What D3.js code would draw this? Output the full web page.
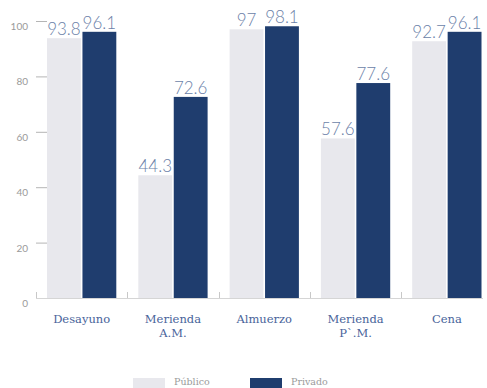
<!DOCTYPE html>
<html>
<head>
<meta charset="utf-8">
<script src="https://cdn.jsdelivr.net/npm/d3@7"></script>
<style>
  body { margin: 0; background: #fff; }
  svg { display: block; }
</style>
</head>
<body>
<div id="chart"></div>
<script>
// chart values
var categories = [["Desayuno"], ["Merienda", "A.M."], ["Almuerzo"], ["Merienda", "P`.M."], ["Cena"]];
var publico = [93.8, 44.3, 97, 57.6, 92.7];
var privado = [96.1, 72.6, 98.1, 77.6, 96.1];
var seriesNames = ["Público", "Privado"];
var yTicks = [0, 20, 40, 60, 80, 100];

var w = 487, h = 388;
var colors = ["#e8e8ed", "#1f3d6e"];

var svg = d3.select("#chart").append("svg")
    .attr("width", w)
    .attr("height", h);

var x = d3.scaleBand()
    .domain(d3.range(categories.length))
    .range([36, 492.5]);

var xInner = d3.scaleBand()
    .domain([0, 1])
    .range([11, x.bandwidth() - 11])
    .paddingInner(0.045);

var y = d3.scaleLinear()
    .domain([0, 100])
    .range([298, 21]);

// y ticks (short lines, labels slightly below)
var yAxis = svg.append("g");
yAxis.selectAll("line")
    .data(yTicks.slice(1))
    .enter().append("line")
    .attr("x1", 36).attr("x2", 47)
    .attr("y1", function(d) { return y(d) + 0.5; })
    .attr("y2", function(d) { return y(d) + 0.5; })
    .attr("stroke", "#b5b5b5")
    .attr("stroke-width", 1);

yAxis.selectAll("text")
    .data(yTicks)
    .enter().append("text")
    .attr("x", 28)
    .attr("y", function(d) { return y(d) + 9; })
    .attr("text-anchor", "end")
    .style("font-family", "Lato, sans-serif")
    .style("font-size", "10px")
    .style("fill", "#9a9a9a")
    .text(function(d) { return d; });

// baseline + band boundary ticks
svg.append("line")
    .attr("x1", 36).attr("x2", 483)
    .attr("y1", 298.5).attr("y2", 298.5)
    .attr("stroke", "#d5d5d5");

svg.selectAll(".bticks")
    .data(d3.range(categories.length))
    .enter().append("line")
    .attr("x1", function(d) { return Math.round(x(d)) + 0.5; })
    .attr("x2", function(d) { return Math.round(x(d)) + 0.5; })
    .attr("y1", 292).attr("y2", 298)
    .attr("stroke", "#c8c8c8");

// bars
var groups = svg.selectAll(".grp")
    .data(d3.range(categories.length))
    .enter().append("g")
    .attr("transform", function(d) { return "translate(" + x(d) + ",0)"; });

[publico, privado].forEach(function(vals, s) {
    groups.append("rect")
        .attr("x", xInner(s))
        .attr("width", xInner.bandwidth())
        .attr("y", function(d) { return y(vals[d]); })
        .attr("height", function(d) { return y(0) - y(vals[d]); })
        .attr("fill", colors[s]);

    groups.append("text")
        .attr("x", xInner(s) + xInner.bandwidth() / 2)
        .attr("y", function(d) { return y(vals[d]) - 3; })
        .attr("text-anchor", "middle")
        .style("font-family", "Lato, sans-serif")
        .style("font-weight", 300)
        .style("font-size", "17px")
        .style("fill", "#6b7fa8")
        .text(function(d) { return vals[d]; });
});

// category labels
groups.append("text")
    .attr("x", x.bandwidth() / 2)
    .attr("y", 323)
    .attr("text-anchor", "middle")
    .style("font-family", "'DejaVu Serif', serif")
    .style("font-size", "11.5px")
    .style("fill", "#48639a")
    .each(function(d) {
        var t = d3.select(this);
        categories[d].forEach(function(line, i) {
            t.append("tspan")
                .attr("x", x.bandwidth() / 2)
                .attr("dy", i === 0 ? 0 : 14)
                .text(line);
        });
    });

// legend
var legX = [133, 250];
var legend = svg.selectAll(".leg")
    .data(seriesNames)
    .enter().append("g")
    .attr("transform", function(d, i) { return "translate(" + legX[i] + ",378)"; });

legend.append("rect")
    .attr("width", 32)
    .attr("height", 10)
    .attr("fill", function(d, i) { return colors[i]; });

legend.append("text")
    .attr("x", 41)
    .attr("y", 7)
    .style("font-family", "'DejaVu Serif', serif")
    .style("font-size", "9.5px")
    .style("fill", "#9a9a9a")
    .text(function(d) { return d; });
</script>
</body>
</html>
